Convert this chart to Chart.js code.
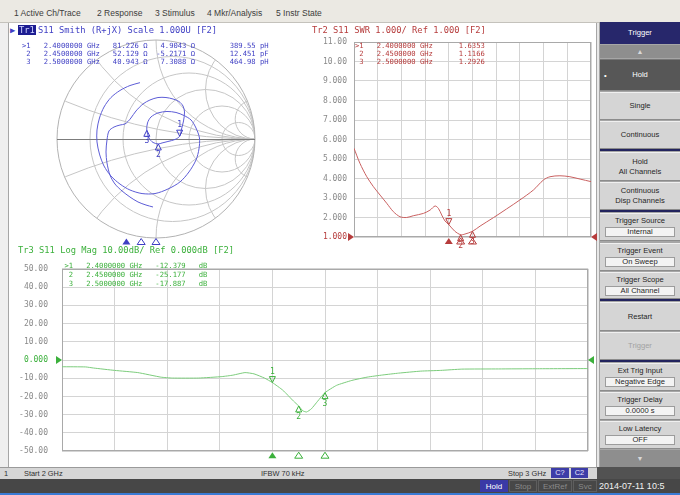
<!DOCTYPE html>
<html lang="en">
<head>
<meta charset="utf-8">
<title>S11 - Smith / SWR / Log Mag</title>
<script src="https://cdn.jsdelivr.net/npm/chart.js@4.4.1/dist/chart.umd.min.js"></script>
<style>
html,body{margin:0;padding:0}
body{width:680px;height:495px;position:relative;overflow:hidden;background:#fff;font-family:"Liberation Sans",Arial,sans-serif}
.a{position:absolute}
canvas{position:absolute}
.mono{font-family:"DejaVu Sans Mono",monospace;white-space:pre;position:absolute}
.hdr{font-size:8.75px;line-height:10px}
.tbl{font-size:7.2px}
#menubar{left:0;top:0;width:680px;height:22px;background:#ebe9e3;border-bottom:1px solid #c4c2bc}
.menu{position:absolute;top:8px;font-size:8.5px;line-height:10px;color:#3c3c3c;white-space:nowrap}
#leftedge{left:0;top:23px;width:8px;height:444px;background:#efefef;border-right:1px solid #a6a6a6}
#mainright{left:596px;top:23px;width:3px;height:444px;background:#e8e8e8;border-left:1px solid #a6a6a6}
#panel{left:599px;top:22px;width:81px;height:445px;background:#a6a6a6}
.sk{position:absolute;left:600px;width:80px;background:#d5d5d5;border-top:1px solid #f0f0f0;border-bottom:1px solid #8c8c8c;box-sizing:border-box;font-size:7.6px;line-height:10px;color:#262626;text-align:center;display:flex;flex-direction:column;justify-content:center;align-items:center;white-space:nowrap}
.sk .val{display:block;width:68px;margin-top:1px;background:#f3f3f3;border:1px solid #9c9c9c;line-height:8px}
.sk.top{justify-content:flex-start;padding-top:2px}
.sep{position:absolute;left:600px;width:80px;height:2px;background:#23245e}
#status{left:0;top:467px;width:597px;height:11px;background:#d6d6d6;border-top:1px solid #9a9a9a}
.st{position:absolute;top:1px;font-size:7.4px;line-height:10px;color:#303030;white-space:nowrap}
.stbox{position:absolute;top:0px;height:10px;background:#3d3da8;color:#e8e8ff;font-size:7.4px;line-height:10px;text-align:center}
#statusright{left:597px;top:467px;width:83px;height:12px;background:#525252}
#bottombar{left:0;top:479px;width:680px;height:14px;background:#474747}
.bb{position:absolute;top:480px;height:12px;font-size:8px;line-height:12px;text-align:center;color:#8a8a8a;border:1px solid #5e5e5e;box-sizing:border-box}
#blueline{left:0;top:493px;width:680px;height:2px;background:#3a7bd5}
</style>
</head>
<body>

<div id="menubar" class="a">
  <span class="menu" style="left:14px">1 Active Ch/Trace</span>
  <span class="menu" style="left:97px">2 Response</span>
  <span class="menu" style="left:155px">3 Stimulus</span>
  <span class="menu" style="left:207px">4 Mkr/Analysis</span>
  <span class="menu" style="left:276px">5 Instr State</span>
</div>
<div id="leftedge" class="a"></div>
<div id="mainright" class="a"></div>

<!-- softkey panel -->
<div id="panel" class="a"></div>
<div class="sk" style="top:22px;height:22px;background:#27276b;color:#fff;border:none">Trigger</div>
<div class="sk" style="top:45px;height:13px;background:#8e8e8e;color:#d8d8d8;border:none;font-size:7px">▲</div>
<div class="sk" style="top:59px;height:32px;background:#575757;color:#fff;border-top:1px solid #777">Hold<span class="a" style="left:4px;top:11px;color:#fff">•</span></div>
<div class="sk" style="top:92px;height:28px">Single</div>
<div class="sk" style="top:121px;height:28px">Continuous</div>
<div class="sep" style="top:149px"></div>
<div class="sk" style="top:152px;height:29px">Hold<br>All Channels</div>
<div class="sk" style="top:182px;height:28px">Continuous<br>Disp Channels</div>
<div class="sep" style="top:210px"></div>
<div class="sk top" style="top:213px;height:28px">Trigger Source<span class="val">Internal</span></div>
<div class="sk top" style="top:243px;height:28px">Trigger Event<span class="val">On Sweep</span></div>
<div class="sk top" style="top:272px;height:27px">Trigger Scope<span class="val">All Channel</span></div>
<div class="sep" style="top:299px"></div>
<div class="sk" style="top:302px;height:29px">Restart</div>
<div class="sk" style="top:332px;height:28px;color:#a2a2a2">Trigger</div>
<div class="sep" style="top:360px"></div>
<div class="sk top" style="top:363px;height:28px">Ext Trig Input<span class="val">Negative Edge</span></div>
<div class="sk top" style="top:392px;height:28px">Trigger Delay<span class="val">0.0000 s</span></div>
<div class="sk top" style="top:421px;height:28px">Low Latency<span class="val">OFF</span></div>
<div class="sk" style="top:450px;height:17px;background:#8e8e8e;color:#d8d8d8;border:none;font-size:7px">▼</div>

<!-- channel status bar -->
<div id="status" class="a">
  <span class="st" style="left:4px">1</span>
  <span class="st" style="left:24px">Start 2 GHz</span>
  <span class="st" style="left:261px">IFBW 70 kHz</span>
  <span class="st" style="left:508px">Stop 3 GHz</span>
  <span class="stbox" style="left:551px;width:18px">C?</span>
  <span class="stbox" style="left:571px;width:17px">C2</span>
</div>
<div id="statusright" class="a"></div>
<div id="bottombar" class="a"></div>
<div class="bb" style="left:480px;width:28px;background:#3a3aa6;color:#fff;border-color:#3a3aa6">Hold</div>
<div class="bb" style="left:509px;width:28px">Stop</div>
<div class="bb" style="left:538px;width:34px">ExtRef</div>
<div class="bb" style="left:573px;width:24px">Svc</div>
<div class="a" style="left:599px;top:480px;font-size:9px;line-height:12px;color:#f2f2f2;white-space:nowrap">2014-07-11 10:5</div>
<div id="blueline" class="a"></div>

<!-- plot canvases -->
<canvas id="smith" width="296" height="210" style="left:8px;top:36px"></canvas>
<canvas id="swr" width="300" height="220" style="left:300px;top:30px"></canvas>
<canvas id="logmag" width="600" height="220" style="left:0px;top:250px"></canvas>

<script>
// ---------------- stimulus / markers ----------------
const startGHz = 2.0;
const stopGHz = 3.0;
const gridFreqGHz = [2.0, 2.1, 2.2, 2.3, 2.4, 2.5, 2.6, 2.7, 2.8, 2.9, 3.0];
const markerNumbers = ['1', '2', '3'];
const markerFreqGHz = [2.40, 2.45, 2.50];
const markerFreqText = ['2.4000000 GHz', '2.4500000 GHz', '2.5000000 GHz'];

// ---------------- Tr1: S11 Smith (R+jX) ----------------
const smithRe = [
  -0.030, -0.101, -0.182, -0.263, -0.343, -0.414, -0.465, -0.495, -0.505, -0.495,
  -0.475, -0.424, -0.364, -0.313, -0.283, -0.253, -0.202, -0.131, -0.061, 0.020,
  0.101, 0.172, 0.232, 0.273, 0.288, 0.278, 0.258, 0.239, 0.192, 0.121,
  0.061, 0.023, -0.030, -0.071, -0.093, -0.086, -0.051, 0.020, 0.111, 0.202,
  0.283, 0.354, 0.404, 0.439, 0.434, 0.404, 0.333, 0.242, 0.121, -0.010,
  -0.141, -0.263, -0.364, -0.455, -0.525, -0.571, -0.596, -0.596, -0.571, -0.525,
  -0.455, -0.364, -0.263, -0.162
];
const smithIm = [
  -0.687, -0.667, -0.636, -0.586, -0.525, -0.455, -0.364, -0.242, -0.131, -0.010,
  0.081, 0.121, 0.141, 0.152, 0.177, 0.212, 0.283, 0.354, 0.394, 0.419,
  0.419, 0.404, 0.379, 0.333, 0.273, 0.182, 0.101, 0.028, -0.005, -0.025,
  -0.040, -0.050, -0.035, 0.010, 0.088, 0.162, 0.222, 0.263, 0.278, 0.268,
  0.237, 0.192, 0.111, 0.010, -0.101, -0.212, -0.333, -0.434, -0.505, -0.551,
  -0.551, -0.515, -0.455, -0.374, -0.273, -0.152, -0.030, 0.091, 0.212, 0.323,
  0.419, 0.490, 0.540, 0.569
];
const smithMarkerR = [81.226, 52.129, 40.943];     // ohm
const smithMarkerX = [4.9043, -5.2171, 7.3088];    // ohm
const smithMarkerLC = ['389.55 pH', '12.451 pF', '464.98 pH'];
const smithResistanceGrid = [0.2, 0.5, 1, 2, 5];
const smithReactanceGrid = [0.2, 0.5, 1, 2, 5];
const z0 = 50;

// ---------------- Tr2: S11 SWR ----------------
const swrFreqGHz = [
  2.000, 2.025, 2.054, 2.082, 2.110, 2.138, 2.166, 2.194, 2.222, 2.250,
  2.293, 2.321, 2.342, 2.356, 2.370, 2.384, 2.400, 2.425, 2.450, 2.468,
  2.500, 2.532, 2.588, 2.644, 2.700, 2.757, 2.799, 2.827, 2.869, 2.911,
  2.954, 3.000
];
const swrValues = [
  5.55, 4.78, 4.09, 3.58, 3.15, 2.73, 2.30, 2.04, 2.00, 2.09,
  2.21, 2.38, 2.59, 2.47, 2.13, 1.82, 1.6353, 1.30, 1.1166, 1.15,
  1.2926, 1.56, 1.99, 2.44, 2.90, 3.41, 3.92, 4.09, 4.14, 4.09,
  3.97, 3.84
];
const swrMarkerValues = [1.6353, 1.1166, 1.2926];
const swrTickValues = [1, 2, 3, 4, 5, 6, 7, 8, 9, 10, 11];
const swrTickLabels = ['1.000', '2.000', '3.000', '4.000', '5.000', '6.000', '7.000', '8.000', '9.000', '10.00', '11.00'];
const swrRef = 1;

// ---------------- Tr3: S11 Log Mag ----------------
const logFreqGHz = [
  2.000, 2.045, 2.060, 2.100, 2.144, 2.188, 2.210, 2.260, 2.304, 2.325,
  2.348, 2.365, 2.385, 2.400, 2.420, 2.440, 2.450, 2.458, 2.465, 2.474,
  2.486, 2.500, 2.522, 2.551, 2.580, 2.610, 2.640, 2.682, 2.720, 2.760,
  2.830, 2.900, 3.000
];
const logValuesDb = [
  -3.7, -3.8, -4.4, -5.7, -6.9, -9.4, -9.9, -9.9, -9.1, -8.3,
  -6.9, -7.6, -9.9, -12.379, -16.6, -22.5, -25.177, -27.9, -28.5, -26.8,
  -22.6, -17.887, -13.9, -11.2, -9.4, -8.2, -7.2, -6.1, -5.7, -5.0,
  -4.9, -4.8, -4.7
];
const logMarkerValues = [-12.379, -25.177, -17.887];
const logTickValues = [-50, -40, -30, -20, -10, 0, 10, 20, 30, 40, 50];
const logTickLabels = ['-50.00', '-40.00', '-30.00', '-20.00', '-10.00', '0.000', '10.00', '20.00', '30.00', '40.00', '50.00'];
const logRef = 0;

// ---------------- colours ----------------
const smithText = '#3f3fc4', smithTrace = '#5c5cd6';
const swrText = '#b63c3c', swrTrace = '#c96060';
const logText = '#3bb03b', logTrace = '#7ccc7c';
const gridColor = '#d4d4d4', frameColor = '#a9a9a9', tickGray = '#8a8a8a';
const monoFamily = '"DejaVu Sans Mono", monospace';

Chart.defaults.font.family = monoFamily;

// reflection coefficient from normalised impedance
function gammaFromZ(zr, zi) {
  const nr = zr - 1, dr = zr + 1;
  const den = dr * dr + zi * zi;
  return { re: (nr * dr + zi * zi) / den, im: (zi * dr - nr * zi) / den };
}

// marker glyph on a trace: triangle whose tip sits on the point, number beyond it
function drawMarkerGlyph(ctx, x, y, label, above, color) {
  const d = above ? -1 : 1;
  ctx.save();
  ctx.strokeStyle = color;
  ctx.fillStyle = color;
  ctx.lineWidth = 1;
  ctx.beginPath();
  ctx.moveTo(x, y);
  ctx.lineTo(x - 3, y + d * 6);
  ctx.lineTo(x + 3, y + d * 6);
  ctx.closePath();
  ctx.stroke();
  ctx.font = '8px ' + monoFamily;
  ctx.textAlign = 'center';
  ctx.textBaseline = above ? 'bottom' : 'top';
  ctx.fillText(label, x, y + d * 7);
  ctx.restore();
}

// stimulus marker under a plot (filled = active marker)
function drawStimTriangle(ctx, x, yTop, filled, color) {
  ctx.save();
  ctx.strokeStyle = color;
  ctx.fillStyle = color;
  ctx.lineWidth = 1;
  ctx.beginPath();
  ctx.moveTo(x, yTop);
  ctx.lineTo(x - 4, yTop + 6);
  ctx.lineTo(x + 4, yTop + 6);
  ctx.closePath();
  if (filled) ctx.fill(); else ctx.stroke();
  ctx.restore();
}

// reference-level arrows on both sides of a rectangular plot
function drawRefArrows(ctx, area, y, color) {
  ctx.save();
  ctx.fillStyle = color;
  ctx.beginPath();
  ctx.moveTo(area.left, y);
  ctx.lineTo(area.left - 6, y - 4);
  ctx.lineTo(area.left - 6, y + 4);
  ctx.closePath();
  ctx.fill();
  ctx.beginPath();
  ctx.moveTo(area.right, y);
  ctx.lineTo(area.right + 6, y - 4);
  ctx.lineTo(area.right + 6, y + 4);
  ctx.closePath();
  ctx.fill();
  ctx.restore();
}

// ---------------- Smith chart ----------------
const smithGridPlugin = {
  id: 'smithGrid',
  beforeDatasetsDraw(chart) {
    const { ctx, scales: { x, y } } = chart;
    const cx = x.getPixelForValue(0), cy = y.getPixelForValue(0);
    const R = x.getPixelForValue(1) - cx;
    ctx.save();
    ctx.beginPath();
    ctx.arc(cx, cy, R, 0, Math.PI * 2);
    ctx.clip();
    ctx.strokeStyle = '#c6c6c6';
    ctx.lineWidth = 1;
    smithResistanceGrid.forEach(r => {
      ctx.beginPath();
      ctx.arc(cx + R * r / (1 + r), cy, R / (1 + r), 0, Math.PI * 2);
      ctx.stroke();
    });
    smithReactanceGrid.forEach(xv => {
      [1, -1].forEach(s => {
        ctx.beginPath();
        ctx.arc(cx + R, cy - s * R / xv, R / xv, 0, Math.PI * 2);
        ctx.stroke();
      });
    });
    ctx.restore();
    ctx.save();
    ctx.lineWidth = 1;
    ctx.strokeStyle = '#b2b2b2';
    ctx.beginPath();
    ctx.arc(cx, cy, R, 0, Math.PI * 2);
    ctx.stroke();
    ctx.strokeStyle = '#7c7c7c';
    const yl = Math.round(cy) + 0.5;
    ctx.beginPath();
    ctx.moveTo(cx - R, yl);
    ctx.lineTo(cx + R, yl);
    ctx.stroke();
    ctx.restore();
  }
};

const smithMarkerPlugin = {
  id: 'smithMarkers',
  afterDatasetsDraw(chart) {
    const { ctx, scales: { x, y }, chartArea } = chart;
    smithMarkerR.forEach((r, i) => {
      const g = gammaFromZ(r / z0, smithMarkerX[i] / z0);
      drawMarkerGlyph(ctx, x.getPixelForValue(g.re), y.getPixelForValue(g.im), markerNumbers[i], i === 0, smithText);
      const sx = (markerFreqGHz[i] - startGHz) / (stopGHz - startGHz) * chart.width;
      drawStimTriangle(ctx, sx, chartArea.bottom + 0.5, i === 0, smithText);
    });
  }
};

new Chart(document.getElementById('smith'), {
  type: 'scatter',
  data: {
    datasets: [{
      data: smithRe.map((re, i) => ({ x: re, y: smithIm[i] })),
      showLine: true,
      borderColor: smithTrace,
      borderWidth: 1,
      pointRadius: 0,
      tension: 0.3,
      clip: false
    }]
  },
  options: {
    responsive: false,
    animation: false,
    devicePixelRatio: 1,
    layout: { padding: { left: 49, right: 49, top: 4, bottom: 8 } },
    plugins: { legend: { display: false }, tooltip: { enabled: false } },
    scales: {
      x: { type: 'linear', min: -1, max: 1, display: false },
      y: { type: 'linear', min: -1, max: 1, display: false }
    }
  },
  plugins: [smithGridPlugin, smithMarkerPlugin]
});

// ---------------- rectangular plots ----------------
function rectDecor(refValue, markerValues, color) {
  return {
    id: 'rectDecor',
    beforeDatasetsDraw(chart) {
      const { ctx, chartArea: a } = chart;
      ctx.save();
      ctx.strokeStyle = frameColor;
      ctx.lineWidth = 1;
      const l = Math.round(a.left) + 0.5, t = Math.round(a.top) + 0.5;
      const r = Math.round(a.right) - 0.5, b = Math.round(a.bottom) - 0.5;
      ctx.strokeRect(l, t, r - l, b - t);
      ctx.restore();
    },
    afterDatasetsDraw(chart) {
      const { ctx, chartArea: a, scales: { x, y } } = chart;
      drawRefArrows(ctx, a, y.getPixelForValue(refValue), color);
      markerValues.forEach((v, i) => {
        const px = x.getPixelForValue(markerFreqGHz[i]);
        drawMarkerGlyph(ctx, px, y.getPixelForValue(v), markerNumbers[i], i === 0, color);
        drawStimTriangle(ctx, px, a.bottom + 1, i === 0, color);
      });
    }
  };
}

function rectChart(id, freq, values, traceColor, refColor, tickValues, tickLabels, refValue,
                   markerValues, axisWidth, tickPad, padding, xHeight, tension) {
  return new Chart(document.getElementById(id), {
    type: 'scatter',
    data: {
      datasets: [{
        data: freq.map((f, i) => ({ x: f, y: values[i] })),
        showLine: true,
        borderColor: traceColor,
        borderWidth: 1,
        pointRadius: 0,
        tension: tension
      }]
    },
    options: {
      responsive: false,
      animation: false,
      devicePixelRatio: 1,
      layout: { padding: padding },
      plugins: { legend: { display: false }, tooltip: { enabled: false } },
      scales: {
        x: {
          type: 'linear',
          min: startGHz,
          max: stopGHz,
          afterBuildTicks: s => { s.ticks = gridFreqGHz.map(v => ({ value: v })); },
          afterFit: s => { s.height = xHeight; },
          ticks: { display: false },
          grid: { color: gridColor, drawTicks: false },
          border: { display: false }
        },
        y: {
          type: 'linear',
          min: tickValues[0],
          max: tickValues[tickValues.length - 1],
          afterBuildTicks: s => { s.ticks = tickValues.map(v => ({ value: v })); },
          afterFit: s => { s.width = axisWidth; },
          ticks: {
            padding: tickPad,
            font: { family: monoFamily, size: 8 },
            color: c => (c.tick && c.tick.value === refValue) ? refColor : tickGray,
            callback: (v, i) => tickLabels[i]
          },
          grid: { color: gridColor, drawTicks: false },
          border: { display: false }
        }
      }
    },
    plugins: [rectDecor(refValue, markerValues, refColor)]
  });
}

rectChart('swr', swrFreqGHz, swrValues, swrTrace, swrText, swrTickValues, swrTickLabels, swrRef,
          swrMarkerValues, 54, 7, { left: 0, right: 9, top: 12, bottom: 0 }, 13, 0.3);

rectChart('logmag', logFreqGHz, logValuesDb, logTrace, logText, logTickValues, logTickLabels, logRef,
          logMarkerValues, 62, 14, { left: 0, right: 12, top: 11, bottom: 0 }, 11, 0.15);

// ---------------- trace headers and marker readouts ----------------
function addMono(cls, x, y, text, color, lineHeight) {
  const el = document.createElement('div');
  el.className = 'mono ' + cls;
  el.style.left = x + 'px';
  el.style.top = y + 'px';
  el.style.color = color;
  if (lineHeight) el.style.lineHeight = lineHeight + 'px';
  el.textContent = text;
  document.body.appendChild(el);
  return el;
}
const markerTag = i => (i === 0 ? '>' : ' ') + markerNumbers[i];

// Tr1 header with active-trace tag
addMono('hdr', 10, 24.5, '\u25B6', smithText);
const tag = addMono('hdr', 18, 24.5, 'Tr1', '#cfd4ff');
tag.style.background = '#1d1d92';
tag.style.padding = '0 1px';
addMono('hdr', 38, 24.5, 'S11 Smith (R+jX) Scale 1.000U [F2]', smithText);
addMono('hdr', 312, 24.5, 'Tr2 S11 SWR 1.000/ Ref 1.000 [F2]', swrText);
addMono('hdr', 18, 245, 'Tr3 S11 Log Mag 10.00dB/ Ref 0.000dB [F2]', logText);

addMono('tbl', 22, 42, markerNumbers.map((n, i) =>
  markerTag(i) + '   ' + markerFreqText[i] + '   ' + smithMarkerR[i].toFixed(3) + ' \u03A9' +
  smithMarkerX[i].toFixed(4).padStart(9) + ' \u03A9' + '        ' + smithMarkerLC[i]).join('\n'), smithText, 8);

addMono('tbl', 355, 42, markerNumbers.map((n, i) =>
  markerTag(i) + '   ' + markerFreqText[i] + '      ' + swrMarkerValues[i].toFixed(4)).join('\n'), swrText, 8);

addMono('tbl', 64.5, 260.5, markerNumbers.map((n, i) =>
  markerTag(i) + '   ' + markerFreqText[i] + '   ' + logMarkerValues[i].toFixed(3) + '   dB').join('\n'), logText, 9);
</script>
</body>
</html>
